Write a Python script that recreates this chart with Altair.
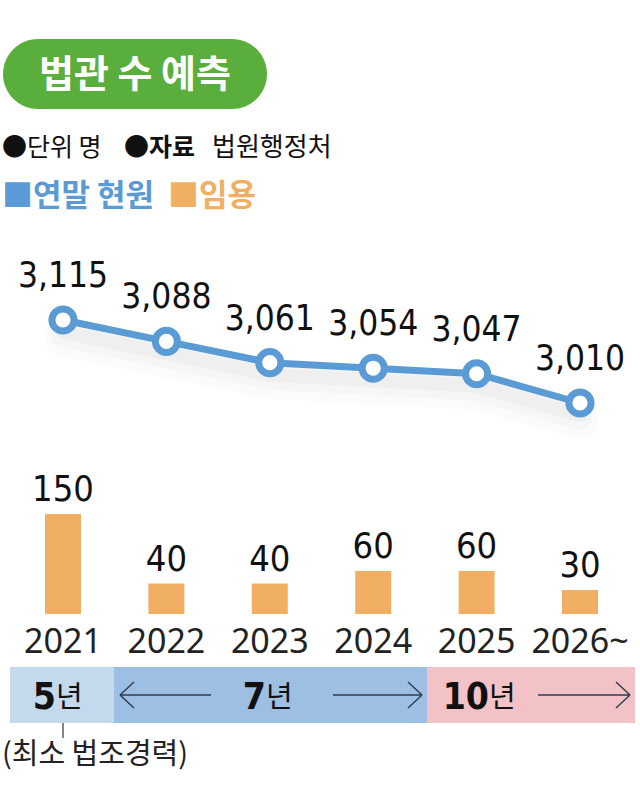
import altair as alt
import pandas as pd

# ---- data ----
years = ["2021", "2022", "2023", "2024", "2025", "2026~"]
judges = [3115, 3088, 3061, 3054, 3047, 3010]
judge_labels = ["3,115", "3,088", "3,061", "3,054", "3,047", "3,010"]
hires = [150, 40, 40, 60, 60, 30]

title_text = "법관 수 예측"
unit_text = "●단위 명"
source_key = "●자료"
source_val = "법원행정처"
legend_line = "■연말 현원"
legend_bar = "■임용"
career_note = "(최소 법조경력)"

df = pd.DataFrame({"year": years, "judges": judges, "jlabel": judge_labels, "hires": hires})

BLUE = "#5b9bd5"
ORANGE = "#f0af62"
GREEN = "#5aae3b"
KR = "Noto Sans CJK KR"
NUM = "DejaVu Sans Condensed, DejaVu Sans"

xenc = alt.X("year:N", sort=years, axis=None,
             scale=alt.Scale(type="point", range=[63, 580], padding=0))
y_line = alt.Y("judges:Q", axis=None,
               scale=alt.Scale(domain=[3010, 3115], range=[403, 320], zero=False, nice=False))
y_bar = alt.Y("hires:Q", axis=None,
              scale=alt.Scale(domain=[-8, 150], range=[614, 514], zero=False, nice=False))

base = alt.Chart(df)


def one():
    return alt.Chart(pd.DataFrame({"a": [0]}))


def ann(text, x, y, size, color="#111111", weight="normal", font=KR, align="left", baseline="alphabetic"):
    return one().mark_text(text=text, fontSize=size, font=font, fontWeight=weight, color=color,
                           align=align, baseline=baseline).encode(x=alt.value(x), y=alt.value(y))


def box(x1, x2, y1, y2, color, radius=0):
    return one().mark_rect(color=color, cornerRadius=radius).encode(
        x=alt.value(x1), x2=alt.value(x2), y=alt.value(y1), y2=alt.value(y2))


def seg(x1, y1, x2, y2, color="#2e3b4c", w=1.4):
    return one().mark_rule(color=color, strokeWidth=w).encode(
        x=alt.value(x1), x2=alt.value(x2), y=alt.value(y1), y2=alt.value(y2))


layers = []

# title pill
layers.append(box(3, 267, 39, 109, GREEN, radius=35))
layers.append(ann(title_text, 135, 76, 38, color="white", weight="bold", align="center", baseline="middle"))

# unit / source row
layers.append(ann(unit_text, 2, 148, 25, baseline="middle"))
layers.append(ann(source_key, 124, 148, 25, weight="bold", baseline="middle"))
layers.append(ann(source_val, 212, 148, 26, baseline="middle"))

# legend row
layers.append(ann(legend_line, 2, 197, 31, color=BLUE, weight="bold", baseline="middle"))
layers.append(ann(legend_bar, 168, 197, 31, color=ORANGE, weight="bold", baseline="middle"))

# soft shadow under the line
for w, op, off in [(36, 0.03, 18), (24, 0.04, 15), (14, 0.05, 12)]:
    layers.append(base.mark_line(color="#777777", strokeWidth=w, opacity=op, yOffset=off,
                                 strokeCap="round").encode(x=xenc, y=y_line))

# line + points + labels
layers.append(base.mark_line(color=BLUE, strokeWidth=7).encode(x=xenc, y=y_line))
layers.append(base.mark_point(shape="circle", size=490, filled=True, fill="white", stroke=BLUE,
                              strokeWidth=7, opacity=1).encode(x=xenc, y=y_line))
layers.append(base.mark_text(fontSize=35, font=NUM, color="#111111", dy=-33,
                             baseline="alphabetic").encode(x=xenc, y=y_line, text="jlabel:N"))

# bars + labels
layers.append(base.mark_bar(color=ORANGE, size=36).encode(x=xenc, y=y_bar, y2=alt.datum(-8)))
layers.append(base.mark_text(fontSize=36, font=NUM, color="#111111", dy=-13,
                             baseline="alphabetic").encode(x=xenc, y=y_bar, text="hires:Q"))

# year labels
layers.append(base.mark_text(fontSize=34, font="Noto Sans", color="#222222",
                             baseline="alphabetic").encode(x=xenc, y=alt.value(653), text="year:N"))

# career bands
layers.append(box(10, 114, 667, 723, "#c4d9ec"))
layers.append(box(114, 427, 667, 723, "#9dbfe3"))
layers.append(box(427, 635, 667, 723, "#f2c2c7"))

# band texts
NUMB = "DejaVu Sans Condensed, DejaVu Sans"
layers.append(ann("5", 56, 709, 37, weight="bold", font=NUMB, align="right"))
layers.append(ann("년", 56, 707, 29))
layers.append(ann("7", 266, 709, 37, weight="bold", font=NUMB, align="right"))
layers.append(ann("년", 266, 707, 29))
layers.append(ann("10", 489, 709, 37, weight="bold", font=NUMB, align="right"))
layers.append(ann("년", 489, 707, 29))

# arrows
layers.append(seg(120, 695, 211, 695))
layers.append(seg(120, 695, 134, 682))
layers.append(seg(120, 695, 134, 708))
layers.append(seg(333, 695, 422, 695))
layers.append(seg(422, 695, 408, 682))
layers.append(seg(422, 695, 408, 708))
layers.append(seg(538, 695, 630, 695))
layers.append(seg(630, 695, 616, 682))
layers.append(seg(630, 695, 616, 708))

# note
layers.append(seg(63, 723, 63, 738, color="#333333", w=1.2))
layers.append(ann(career_note, 95, 764, 29, color="#222222", align="center"))

chart = alt.layer(*layers).resolve_scale(y="independent", x="independent").properties(
    width=640, height=804, padding=0, autosize=alt.AutoSizeParams(type="none"),
    background="white"
).configure_view(stroke=None)

chart.save("out.html", embed_options={"renderer": "svg", "actions": False})
